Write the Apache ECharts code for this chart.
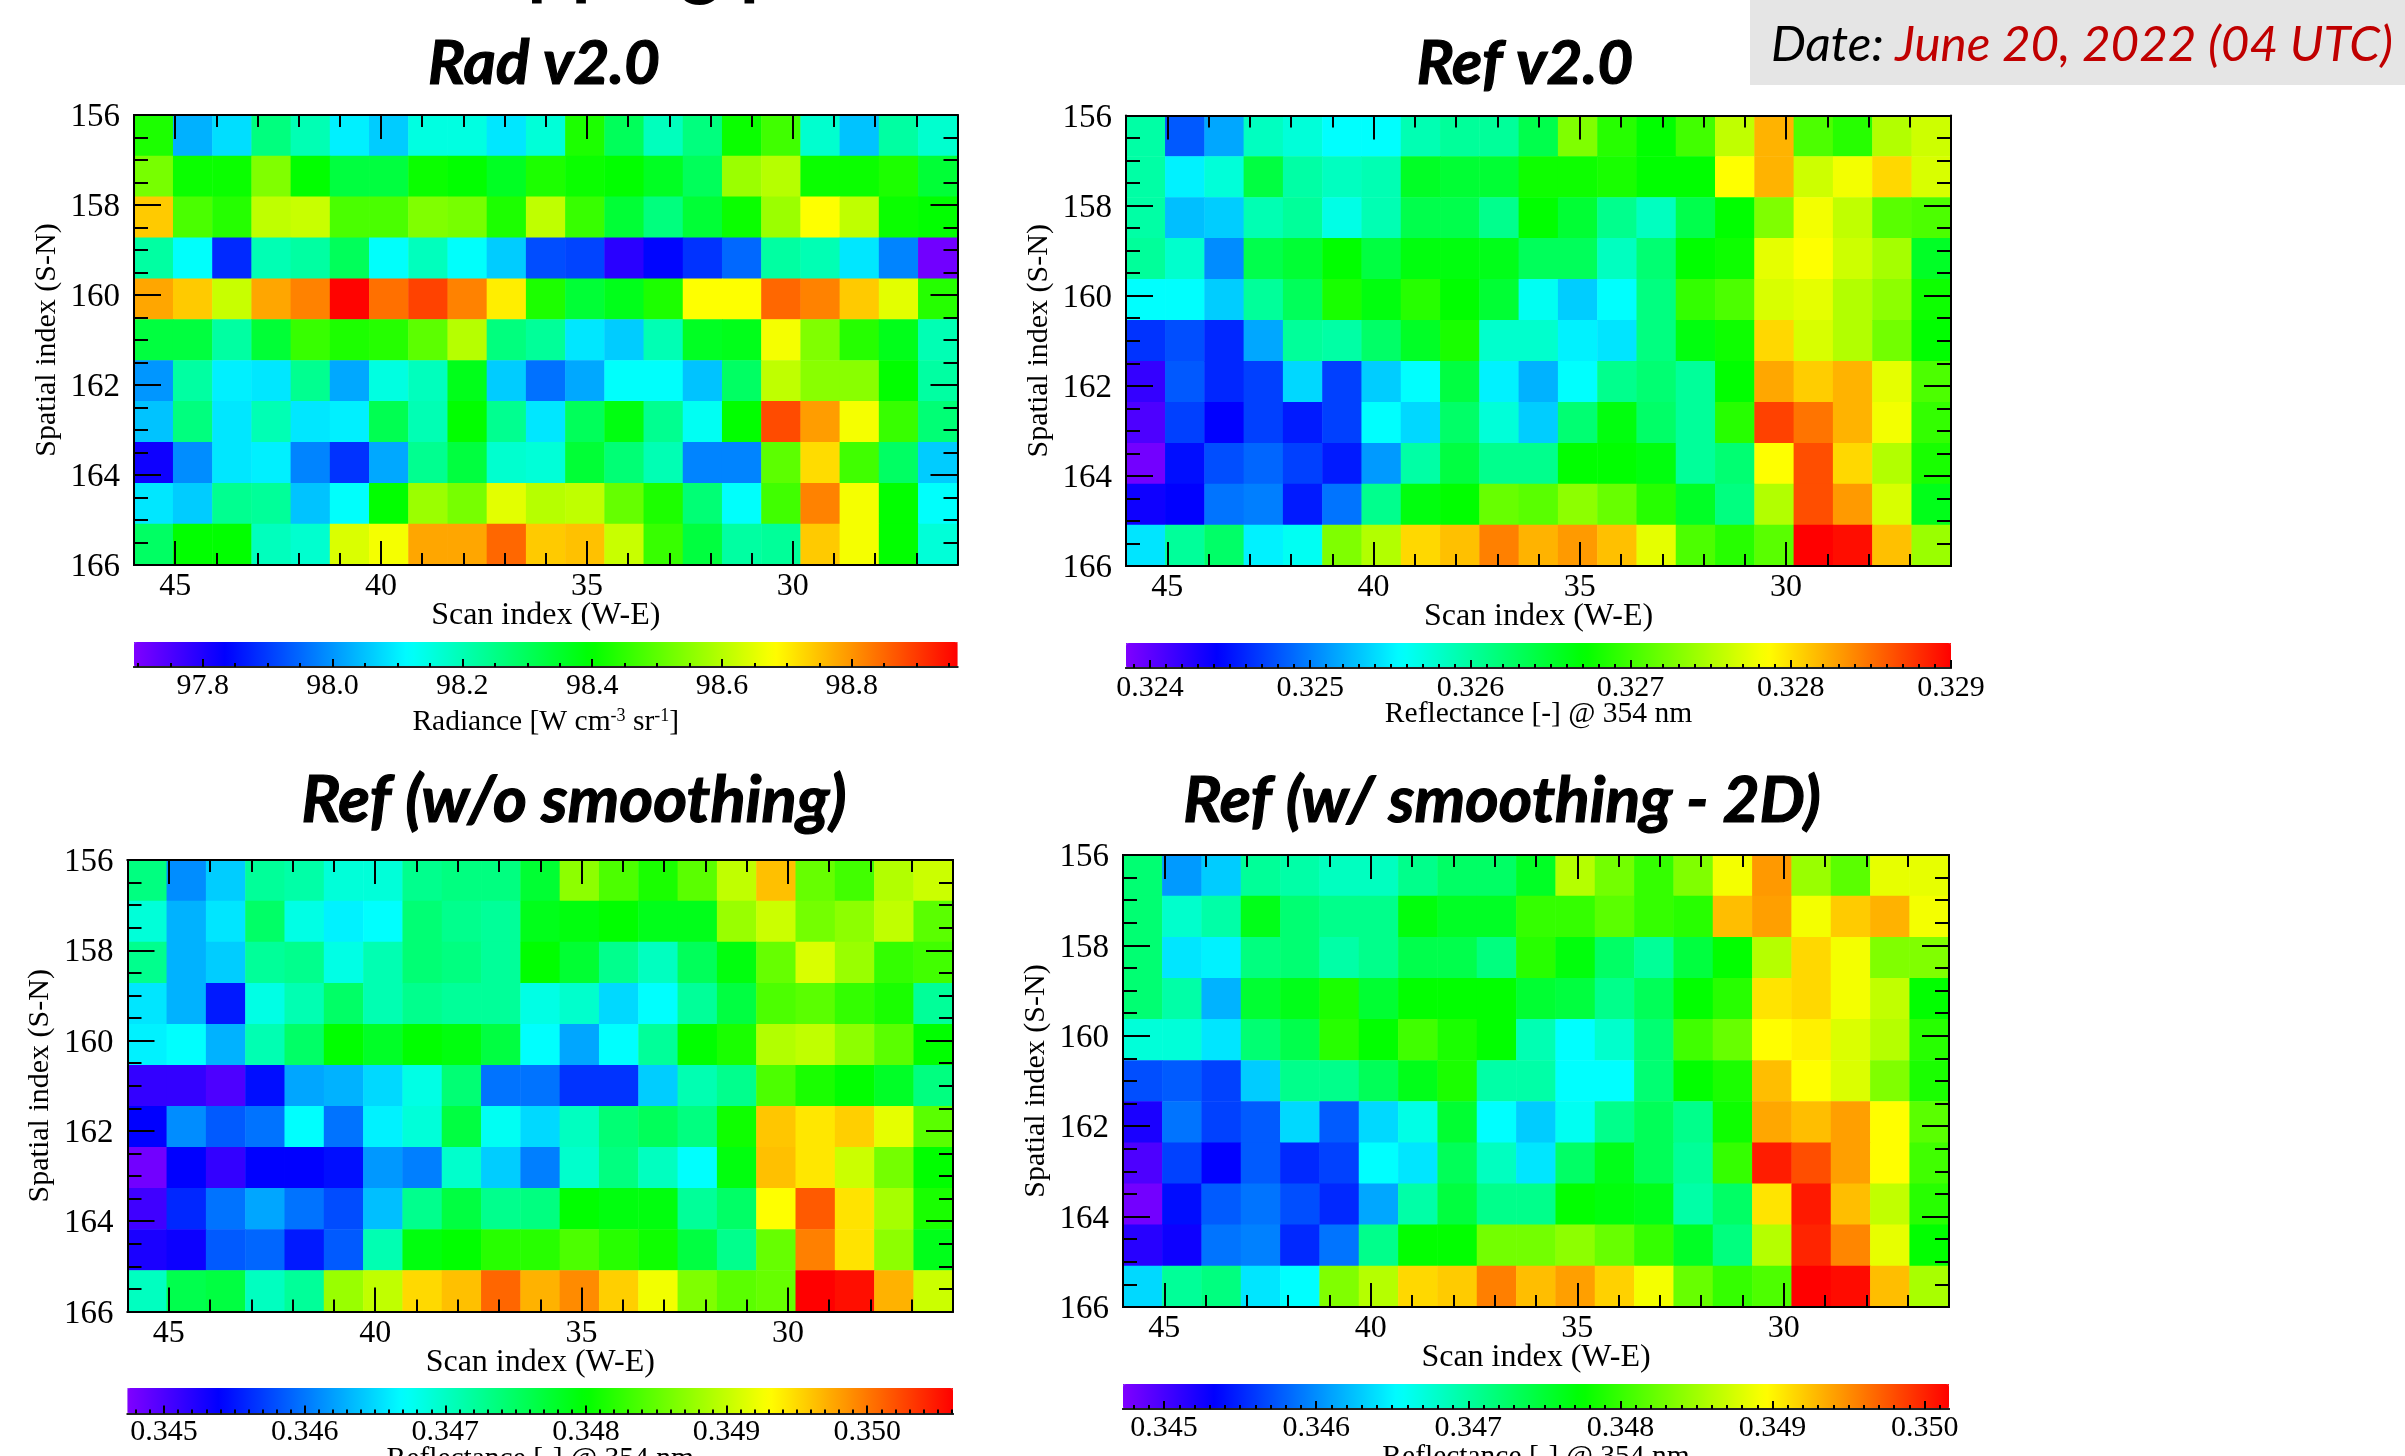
<!DOCTYPE html>
<html><head><meta charset="utf-8">
<style>html,body{margin:0;padding:0;background:#fff;overflow:hidden}#c{width:2405px;height:1456px}</style>
<script src="https://cdn.jsdelivr.net/npm/echarts@6/dist/echarts.min.js"></script>
</head><body><div id="c"></div>
<script>
const scanCategories=[46,45,44,43,42,41,40,39,38,37,36,35,34,33,32,31,30,29,28,27,26];
const spatialCategories=[156,157,158,159,160,161,162,163,164,165,166];
const scanTicks=[45,40,35,30];
const radTicks=[97.8,98.0,98.2,98.4,98.6,98.8];
const refV2Ticks=[0.324,0.325,0.326,0.327,0.328,0.329];
const refTicks=[0.345,0.346,0.347,0.348,0.349,0.350];

const radV2=[
[98.43,98.03,98.08,98.26,98.20,98.10,98.06,98.15,98.15,98.09,98.16,98.43,98.30,98.19,98.26,98.41,98.47,98.17,98.05,98.22,98.17],
[98.53,98.41,98.41,98.54,98.40,98.33,98.33,98.41,98.40,98.36,98.43,98.41,98.40,98.36,98.30,98.57,98.60,98.41,98.41,98.43,98.34],
[98.74,98.48,98.44,98.61,98.62,98.48,98.48,98.54,98.53,98.43,98.61,98.46,98.34,98.26,98.34,98.41,98.57,98.68,98.61,98.41,98.40],
[98.22,98.12,97.88,98.20,98.22,98.30,98.12,98.19,98.12,98.06,97.92,97.91,97.79,97.84,97.89,97.95,98.22,98.20,98.09,97.98,97.71],
[98.78,98.74,98.62,98.78,98.82,98.96,98.84,98.89,98.82,98.70,98.43,98.34,98.37,98.43,98.68,98.68,98.85,98.82,98.74,98.65,98.44],
[98.33,98.33,98.22,98.34,98.46,98.43,98.44,98.50,98.60,98.26,98.23,98.09,98.06,98.20,98.36,98.37,98.67,98.54,98.44,98.37,98.20],
[98.00,98.22,98.10,98.09,98.24,98.02,98.15,98.19,98.37,98.06,97.96,98.02,98.12,98.12,98.05,98.29,98.61,98.55,98.55,98.40,98.22],
[98.05,98.26,98.09,98.20,98.09,98.10,98.31,98.20,98.40,98.24,98.09,98.30,98.38,98.24,98.13,98.40,98.88,98.79,98.67,98.46,98.27],
[97.82,97.99,98.09,98.10,97.98,97.89,98.02,98.24,98.33,98.17,98.16,98.34,98.27,98.20,97.98,97.98,98.50,98.72,98.47,98.29,98.06],
[98.09,98.06,98.24,98.23,98.05,98.12,98.40,98.57,98.53,98.65,98.60,98.61,98.51,98.43,98.27,98.12,98.47,98.82,98.67,98.40,98.12],
[98.29,98.40,98.40,98.19,98.17,98.64,98.67,98.78,98.78,98.85,98.74,98.75,98.62,98.46,98.33,98.22,98.23,98.74,98.67,98.40,98.16]];

const refV2=[
[.32597,.32482,.32517,.32585,.32574,.32557,.32557,.32591,.32602,.32602,.32637,.32728,.32688,.32671,.32700,.32757,.32820,.32705,.32688,.32751,.32763],
[.32597,.32551,.32574,.32642,.32597,.32585,.32591,.32654,.32648,.32648,.32677,.32677,.32682,.32671,.32671,.32785,.32820,.32763,.32780,.32803,.32768],
[.32597,.32528,.32534,.32591,.32602,.32568,.32591,.32637,.32637,.32608,.32671,.32648,.32608,.32585,.32637,.32671,.32728,.32780,.32757,.32711,.32705],
[.32602,.32579,.32505,.32637,.32648,.32671,.32642,.32665,.32665,.32660,.32631,.32631,.32585,.32620,.32671,.32677,.32774,.32785,.32763,.32745,.32654],
[.32557,.32557,.32534,.32602,.32631,.32682,.32665,.32688,.32671,.32648,.32562,.32534,.32557,.32614,.32694,.32705,.32768,.32774,.32751,.32734,.32677],
[.32465,.32477,.32459,.32517,.32602,.32597,.32625,.32654,.32682,.32579,.32579,.32551,.32545,.32614,.32665,.32677,.32803,.32768,.32751,.32722,.32671],
[.32419,.32482,.32459,.32471,.32539,.32471,.32534,.32557,.32642,.32551,.32522,.32557,.32608,.32620,.32602,.32671,.32825,.32808,.32820,.32774,.32705],
[.32408,.32471,.32442,.32471,.32454,.32471,.32557,.32539,.32625,.32574,.32534,.32620,.32665,.32625,.32602,.32688,.32871,.32848,.32820,.32780,.32694],
[.32391,.32448,.32477,.32488,.32471,.32454,.32511,.32597,.32642,.32608,.32608,.32671,.32671,.32665,.32602,.32620,.32785,.32865,.32803,.32751,.32682],
[.32436,.32442,.32494,.32499,.32454,.32494,.32608,.32665,.32671,.32717,.32711,.32734,.32717,.32688,.32654,.32614,.32751,.32865,.32831,.32768,.32660],
[.32545,.32602,.32625,.32551,.32562,.32728,.32751,.32803,.32814,.32843,.32820,.32831,.32814,.32774,.32705,.32688,.32711,.32900,.32894,.32814,.32740]];

const refNoSmooth=[
[.34735,.34611,.34644,.34722,.34715,.34689,.34689,.34728,.34735,.34735,.34774,.34872,.34839,.34813,.34846,.34898,.34963,.34852,.34833,.34891,.34904],
[.34689,.34630,.34657,.34748,.34683,.34663,.34670,.34741,.34728,.34722,.34787,.34793,.34800,.34787,.34787,.34878,.34904,.34859,.34872,.34898,.34846],
[.34728,.34630,.34644,.34722,.34728,.34683,.34709,.34741,.34735,.34722,.34800,.34774,.34728,.34702,.34754,.34793,.34852,.34911,.34878,.34826,.34833],
[.34657,.34630,.34552,.34683,.34709,.34748,.34709,.34728,.34722,.34722,.34683,.34696,.34650,.34670,.34722,.34767,.34839,.34846,.34826,.34813,.34722],
[.34663,.34670,.34630,.34709,.34748,.34800,.34780,.34800,.34793,.34767,.34670,.34624,.34670,.34722,.34800,.34813,.34891,.34898,.34872,.34846,.34800],
[.34513,.34513,.34500,.34546,.34624,.34630,.34650,.34683,.34741,.34598,.34598,.34565,.34565,.34644,.34709,.34728,.34839,.34813,.34800,.34780,.34735],
[.34539,.34611,.34585,.34598,.34670,.34598,.34663,.34689,.34767,.34676,.34650,.34702,.34741,.34754,.34735,.34807,.34960,.34943,.34955,.34917,.34846],
[.34481,.34539,.34513,.34539,.34539,.34546,.34617,.34604,.34696,.34644,.34604,.34696,.34735,.34702,.34670,.34793,.34963,.34943,.34904,.34859,.34800],
[.34507,.34559,.34598,.34624,.34598,.34578,.34637,.34728,.34767,.34728,.34735,.34800,.34793,.34793,.34722,.34748,.34930,.35015,.34945,.34885,.34813],
[.34526,.34533,.34585,.34591,.34552,.34585,.34709,.34793,.34800,.34820,.34820,.34839,.34820,.34807,.34767,.34728,.34852,.34996,.34945,.34872,.34787],
[.34702,.34761,.34767,.34702,.34722,.34878,.34898,.34950,.34963,.35009,.34970,.34990,.34955,.34924,.34865,.34846,.34852,.35061,.35054,.34970,.34904]];

const refSmooth2D=[
[.34721,.34606,.34630,.34703,.34696,.34684,.34684,.34709,.34727,.34727,.34757,.34860,.34829,.34799,.34835,.34890,.34944,.34847,.34817,.34884,.34884],
[.34721,.34678,.34696,.34763,.34721,.34709,.34709,.34769,.34757,.34757,.34799,.34799,.34817,.34799,.34793,.34926,.34941,.34890,.34920,.34932,.34890],
[.34721,.34642,.34648,.34715,.34721,.34696,.34709,.34739,.34739,.34715,.34793,.34769,.34727,.34703,.34745,.34775,.34860,.34914,.34890,.34835,.34835],
[.34721,.34696,.34618,.34751,.34763,.34787,.34751,.34775,.34775,.34775,.34751,.34745,.34709,.34733,.34775,.34793,.34908,.34914,.34890,.34866,.34775],
[.34672,.34672,.34642,.34721,.34739,.34793,.34775,.34805,.34787,.34775,.34690,.34654,.34678,.34721,.34805,.34823,.34896,.34902,.34878,.34860,.34793],
[.34570,.34576,.34564,.34630,.34709,.34709,.34733,.34763,.34787,.34696,.34696,.34654,.34654,.34721,.34775,.34787,.34926,.34896,.34878,.34835,.34787],
[.34521,.34588,.34564,.34576,.34636,.34576,.34636,.34666,.34751,.34654,.34630,.34660,.34709,.34733,.34709,.34781,.34937,.34926,.34941,.34896,.34817],
[.34497,.34564,.34533,.34576,.34552,.34564,.34654,.34642,.34733,.34684,.34642,.34727,.34763,.34733,.34703,.34799,.35003,.34979,.34941,.34896,.34805],
[.34479,.34539,.34576,.34588,.34570,.34552,.34612,.34696,.34745,.34709,.34709,.34775,.34769,.34763,.34696,.34727,.34908,.35004,.34926,.34866,.34793],
[.34515,.34527,.34588,.34594,.34552,.34588,.34709,.34775,.34775,.34829,.34829,.34841,.34823,.34799,.34757,.34715,.34860,.34999,.34953,.34884,.34775],
[.34636,.34703,.34715,.34642,.34654,.34835,.34860,.34914,.34920,.34956,.34926,.34941,.34917,.34890,.34823,.34799,.34811,.35017,.35011,.34926,.34854]];

const rainbow=['#8000ff','#0000ff','#0080ff','#00ffff','#00ff80','#00ff00','#80ff00','#ffff00','#ff8000','#ff0000'];
const serif='"Liberation Serif"';
const panels=[
 {title:'Rad v2.0',tx:539,ty:28,fs:62,data:radV2,L:134,R:957.5,T:115,B:565,cT:642,cB:667,vmin:97.694,vmax:98.963,ticks:radTicks,step:0.05,dec:1,
  name:'{n|Radiance [W cm}{s|-3}{n| sr}{s|-1}{n|]}',lgap:4,ngap:40},
 {title:'Ref v2.0',tx:1520,ty:28,fs:62,data:refV2,L:1126,R:1951,T:115.5,B:566,cT:643,cB:668,vmin:0.32385,vmax:0.329,ticks:refV2Ticks,step:0.0001,dec:3,
  name:'{n|Reflectance [-] @ 354 nm}',lgap:5,ngap:31},
 {title:'Ref (w/o smoothing)',tx:569,ty:764,fs:65,data:refNoSmooth,L:127.5,R:953,T:860,B:1311.5,cT:1388,cB:1413.5,vmin:0.34474,vmax:0.35061,ticks:refTicks,step:0.0001,dec:3,
  name:'{n|Reflectance [-] @ 354 nm}',lgap:4,ngap:31},
 {title:'Ref (w/ smoothing - 2D)',tx:1497,ty:764,fs:64,data:refSmooth2D,L:1123,R:1949,T:855,B:1307,cT:1384,cB:1409,vmin:0.34473,vmax:0.35016,ticks:refTicks,step:0.0001,dec:3,
  name:'{n|Reflectance [-] @ 354 nm}',lgap:4,ngap:33}
];

const grid=[],xAxis=[],yAxis=[],series=[],visualMap=[],title=[];
const graphic=[
 {type:'rect',left:1750,top:0,z:1,shape:{width:655,height:85},style:{fill:'#e5e5e5'}},
 {type:'text',x:1771,y:45,z:5,style:{text:'{a|Date: }{b|June 20, 2022 (04 UTC)}',textVerticalAlign:'middle',
   rich:{a:{fontFamily:'Lato',fontStyle:'italic',fontSize:49.4,fill:'#000',lineHeight:60},
         b:{fontFamily:'Lato',fontStyle:'italic',fontSize:49.4,fill:'#c00000',lineHeight:60}}}},
 {type:'text',x:415,y:4,z:5,style:{text:'Mapping plots',font:'bold 78px Lato',fill:'#000',textVerticalAlign:'bottom'}}
];
const line={show:true,onZero:false,lineStyle:{color:'#000',width:2}};
panels.forEach((p,i)=>{
  const W=p.R-p.L,H=p.B-p.T;
  title.push({text:p.title,left:p.tx,top:p.ty,textAlign:'center',
    textStyle:{fontFamily:'Lato',fontStyle:'italic',fontWeight:'bold',fontSize:p.fs,color:'#000',textBorderColor:'#000',textBorderWidth:1.2}});
  const g=grid.length;
  grid.push({left:p.L,top:p.T,width:W,height:H,containLabel:false,outerBoundsMode:'none'});
  const xCat=xAxis.length,yCat=yAxis.length;
  xAxis.push({type:'category',gridIndex:g,show:false,data:scanCategories});
  yAxis.push({type:'category',gridIndex:g,show:false,inverse:true,data:spatialCategories});
  const xBase={type:'value',gridIndex:g,min:26,max:46,inverse:true,z:6,splitLine:{show:false},axisLine:line};
  xAxis.push(Object.assign({},xBase,{position:'bottom',name:'Scan index (W-E)',nameLocation:'middle',nameGap:35,nameMoveOverlap:false,
    nameTextStyle:{fontFamily:serif,fontSize:32,color:'#000'},
    axisTick:{show:true,inside:true,length:24,customValues:scanTicks,lineStyle:{color:'#000',width:2}},
    axisLabel:{show:true,margin:6,customValues:scanTicks,fontFamily:serif,fontSize:32,color:'#000'}}));
  xAxis.push(Object.assign({},xBase,{position:'bottom',interval:1,
    axisTick:{show:true,inside:true,length:12,lineStyle:{color:'#000',width:2}},axisLabel:{show:false}}));
  xAxis.push(Object.assign({},xBase,{position:'top',
    axisTick:{show:true,inside:true,length:24,customValues:scanTicks,lineStyle:{color:'#000',width:2}},axisLabel:{show:false}}));
  xAxis.push(Object.assign({},xBase,{position:'top',interval:1,
    axisTick:{show:true,inside:true,length:12,lineStyle:{color:'#000',width:2}},axisLabel:{show:false}}));
  const yBase={type:'value',gridIndex:g,min:156,max:166,interval:2,inverse:true,z:6,splitLine:{show:false},axisLine:line,
    axisTick:{show:true,inside:true,length:27,lineStyle:{color:'#000',width:2}},
    minorTick:{show:true,splitNumber:4,length:14,lineStyle:{color:'#000',width:2}}};
  yAxis.push(Object.assign({},yBase,{position:'left',name:'Spatial index (S-N)',nameLocation:'middle',nameGap:72,nameRotate:90,
    nameTextStyle:{fontFamily:serif,fontSize:30,color:'#000'},
    axisLabel:{show:true,margin:14,formatter:'{a|{value}}',rich:{a:{fontFamily:serif,fontSize:33,color:'#000',lineHeight:33,padding:[5,0,0,0]}}}}));
  yAxis.push(Object.assign({},yBase,{position:'right',axisLabel:{show:false}}));
  const cells=[];
  p.data.forEach((row,r)=>row.forEach((v,c)=>cells.push([c,r,v])));
  const si=series.length;
  series.push({type:'heatmap',xAxisIndex:xCat,yAxisIndex:yCat,data:cells,z:2,silent:true,progressive:0,
    itemStyle:{borderWidth:0},emphasis:{disabled:true}});
  visualMap.push({type:'continuous',seriesIndex:si,min:p.vmin,max:p.vmax,orient:'horizontal',left:p.L,top:p.cT,
    itemWidth:p.cB-p.cT,itemHeight:W,calculable:false,realtime:false,hoverLink:false,text:null,showLabel:false,padding:0,
    borderWidth:0,inRange:{color:rainbow},z:3});
  // square backing so the colour bar keeps sharp corners
  graphic.push({type:'rect',left:p.L,top:p.cT,z:1,shape:{width:W,height:p.cB-p.cT},
    style:{fill:new echarts.graphic.LinearGradient(0,0,1,0,rainbow.map((c,k)=>({offset:k/(rainbow.length-1),color:c})))}});
  // colour-bar scale
  const cg=grid.length;
  grid.push({left:p.L,top:p.cT,width:W,height:p.cB-p.cT,outerBoundsMode:'none'});
  const minor=[];
  for(let k=Math.ceil(p.vmin/p.step);k*p.step<=p.vmax+1e-9;k++)minor.push(+(k*p.step).toFixed(5));
  const cbBase={type:'value',gridIndex:cg,min:p.vmin,max:p.vmax,position:'bottom',z:6,splitLine:{show:false},
    axisLine:{show:true,onZero:false,lineStyle:{color:'#222',width:2}}};
  yAxis.push({type:'value',gridIndex:cg,show:false,min:0,max:1});
  xAxis.push(Object.assign({},cbBase,{name:p.name,nameLocation:'middle',nameGap:p.ngap,nameMoveOverlap:false,
    nameTextStyle:{rich:{n:{fontFamily:serif,fontSize:29.5,color:'#000',lineHeight:30,verticalAlign:'bottom'},
                         s:{fontFamily:serif,fontSize:18,color:'#000',lineHeight:30,verticalAlign:'top'}}},
    axisTick:{show:true,inside:true,length:8,customValues:p.ticks,lineStyle:{color:'#000',width:2}},
    axisLabel:{show:true,margin:p.lgap,customValues:p.ticks,fontFamily:serif,fontSize:30,color:'#000',
      formatter:v=>v.toFixed(p.dec)}}));
  xAxis.push(Object.assign({},cbBase,{
    axisTick:{show:true,inside:true,length:4,customValues:minor,lineStyle:{color:'#000',width:2}},axisLabel:{show:false}}));
});

const chart=echarts.init(document.getElementById('c'),null,{renderer:'canvas',width:2405,height:1456});
chart.setOption({animation:false,backgroundColor:'#fff',title,grid,xAxis,yAxis,series,visualMap,graphic});
</script></body></html>
